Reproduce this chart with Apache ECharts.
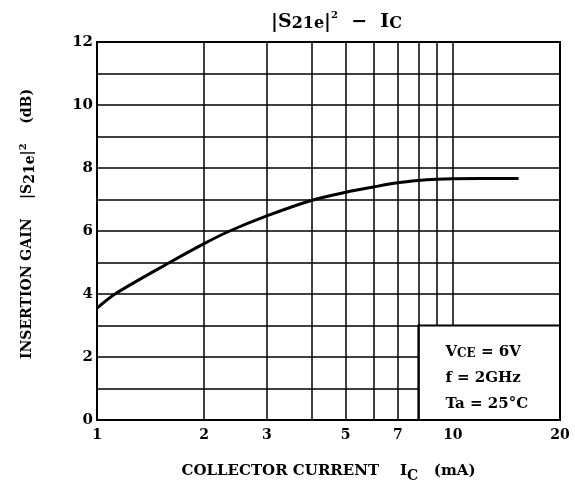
<!DOCTYPE html>
<html><head><meta charset="utf-8">
<script src="https://cdn.jsdelivr.net/npm/echarts@6/dist/echarts.min.js"></script>
<style>html,body{margin:0;padding:0;background:#fff}#c{width:575px;height:488px}</style>
</head><body><div id="c"></div>
<script>
// Data
const currentMA = [1, 1.124, 1.6, 2, 2.36, 3, 4, 5, 6, 7, 8, 9, 10, 12, 15.3];
const gainDB    = [3.55, 4.0, 5.0, 5.6, 6.0, 6.48, 6.97, 7.23, 7.40, 7.53, 7.60, 7.64, 7.66, 7.67, 7.67];
const xTickLabels = [1, 2, 3, 5, 7, 10, 20];
const xGridValues = [2, 3, 4, 5, 6, 7, 8, 9, 10];
const boxX = [8, 20];
const boxY = [0, 3];
const yRange = [0, 12];
const conditions = ['{t|V}{s|CE}{t| = 6V}', '{t|f = 2GHz}', '{t|Ta = 25°C}'];

const FF = 'DejaVu Serif';
const chart = echarts.init(document.getElementById('c'), null, {renderer: 'canvas'});
const pts = currentMA.map((x, i) => [x, gainDB[i]]);
const gridLines = xGridValues.map(v => [
  {coord: [v, v > boxX[0] ? boxY[1] : yRange[0]]},
  {coord: [v, yRange[1]]}
]);

chart.setOption({
  animation: false,
  backgroundColor: '#fff',
  title: {
    text: '{a||S}{b|21e}{a||}{c|2}{a|  −  I}{b|C}',
    left: 266, top: 5,
    textStyle: {
      fontFamily: FF, fontSize: 19, color: '#000',
      rich: {
        a: {fontFamily: FF, fontSize: 19, color: '#000', verticalAlign: 'bottom'},
        b: {fontFamily: FF, fontSize: 16, color: '#000', verticalAlign: 'bottom', padding: [6, 0, 0, 0]},
        c: {fontFamily: FF, fontSize: 10, color: '#000', verticalAlign: 'top', padding: [0, 0, 8, 0]}
      }
    }
  },
  grid: {left: 97, right: 15, top: 42, bottom: 66, show: true, borderColor: '#000', borderWidth: 2},
  xAxis: {
    type: 'log', logBase: 10, min: 1, max: 20,
    axisLine: {show: true, lineStyle: {color: '#000', width: 2}},
    axisTick: {show: false},
    splitLine: {show: false},
    minorSplitLine: {show: false},
    axisLabel: {
      customValues: xTickLabels,
      color: '#000', fontFamily: FF, fontWeight: 'bold', fontSize: 14, margin: 8
    },
    name: 'COLLECTOR CURRENT    I{sub|C}   (mA)',
    nameLocation: 'middle', nameGap: 40,
    nameTextStyle: {
      color: '#000', fontFamily: FF, fontWeight: 'bold', fontSize: 15,
      rich: {sub: {fontFamily: FF, fontWeight: 'bold', fontSize: 14, color: '#000', padding: [9, 0, 0, 0]}}
    }
  },
  yAxis: {
    type: 'value', min: yRange[0], max: yRange[1], interval: 1,
    axisLine: {show: true, lineStyle: {color: '#000', width: 2}},
    axisTick: {show: false},
    splitLine: {show: true, lineStyle: {color: '#000', width: 1.5}},
    axisLabel: {
      formatter: v => (v % 2 === 0 ? String(v) : ''),
      color: '#000', fontFamily: FF, fontWeight: 'bold', fontSize: 15, margin: 4
    },
    name: 'INSERTION GAIN    |S{sub|21e}|{sup|2}    (dB)',
    nameLocation: 'middle', nameGap: 60, nameRotate: 90,
    nameTextStyle: {
      color: '#000', fontFamily: FF, fontWeight: 'bold', fontSize: 14, padding: [0, 0, 0, 14],
      rich: {
        sub: {fontFamily: FF, fontWeight: 'bold', fontSize: 14, color: '#000', padding: [6, 0, 0, 0]},
        sup: {fontFamily: FF, fontWeight: 'bold', fontSize: 10, color: '#000', padding: [0, 0, 8, 0]}
      }
    }
  },
  series: [{
    type: 'line', data: pts, smooth: 0.3, symbol: 'none', silent: true,
    lineStyle: {color: '#000', width: 3},
    markLine: {
      silent: true, symbol: 'none', label: {show: false},
      lineStyle: {color: '#000', width: 1.5, type: 'solid'},
      data: gridLines
    },
    markArea: {
      silent: true,
      itemStyle: {color: '#fff', borderColor: '#000', borderWidth: 2},
      label: {
        show: true, position: 'insideLeft', distance: 28,
        formatter: conditions.join('\n'),
        rich: {
          t: {fontFamily: FF, fontWeight: 'bold', fontSize: 15, color: '#000', lineHeight: 26, verticalAlign: 'bottom'},
          s: {fontFamily: FF, fontWeight: 'bold', fontSize: 12, color: '#000', lineHeight: 26, verticalAlign: 'bottom', padding: [5, 0, 0, 0]}
        }
      },
      data: [[{coord: [boxX[0], boxY[0]]}, {coord: [boxX[1], boxY[1]]}]]
    }
  }]
});
</script></body></html>
